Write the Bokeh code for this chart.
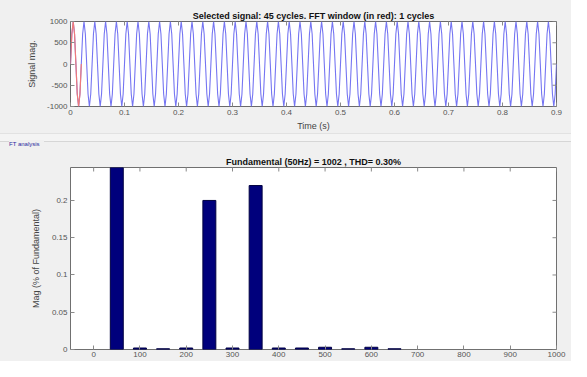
import numpy as np
from bokeh.plotting import figure
from bokeh.models import FixedTicker, Range1d, Div
from bokeh.layouts import column
from bokeh.embed import file_html
from bokeh.resources import INLINE

# ---- data ----
top_title = "Selected signal: 45 cycles. FFT window (in red): 1 cycles"
bottom_title = "Fundamental (50Hz) = 1002 , THD= 0.30%"

signal_cycle = [0, 707, 1000, 707, 0, -707, -1000, -707]   # one 50 Hz cycle (read)
cycle_period = 0.02
n_cycles = 45

time_ticks = [0, 0.1, 0.2, 0.3, 0.4, 0.5, 0.6, 0.7, 0.8, 0.9]
time_tick_labels = ["0", "0.1", "0.2", "0.3", "0.4", "0.5", "0.6", "0.7", "0.8", "0.9"]
mag_ticks = [-1000, -500, 0, 500, 1000]
mag_tick_labels = ["-1000", "-500", "0", "500", "1000"]

harm_freq = [50, 100, 150, 200, 250, 300, 350, 400, 450, 500, 550, 600, 650]
harm_mag = [100, 0.002, 0.001, 0.002, 0.2, 0.002, 0.22, 0.002, 0.002, 0.003, 0.001, 0.003, 0.001]

freq_ticks = [0, 100, 200, 300, 400, 500, 600, 700, 800, 900, 1000]
freq_tick_labels = ["0", "100", "200", "300", "400", "500", "600", "700", "800", "900", "1000"]
pct_ticks = [0, 0.05, 0.1, 0.15, 0.2]
pct_tick_labels = ["0", "0.05", "0.1", "0.15", "0.2"]

# ---- build series ----
spc = len(signal_cycle)
t = np.arange(n_cycles * spc + 1) * (cycle_period / spc)
sig = np.array(list(signal_cycle) * n_cycles + [signal_cycle[0]])
t_win = t[: spc + 1]
sig_win = sig[: spc + 1]

FONT = "Liberation Sans"
BG = "#f0f0f0"
W = 571
TICK_C = "#8a8a8a"


def style_axis(ax, ticks, labels):
    ax.ticker = FixedTicker(ticks=ticks)
    ax.major_label_overrides = {k: v for k, v in zip(ticks, labels)}
    ax.major_tick_in = 4
    ax.major_tick_out = 0
    ax.minor_tick_line_color = None
    ax.major_tick_line_color = TICK_C
    ax.axis_line_color = None
    ax.major_label_text_font = FONT
    ax.major_label_text_color = "#555555"
    ax.major_label_text_font_size = "8px"
    ax.major_label_standoff = 3
    ax.axis_label_text_font = FONT
    ax.axis_label_text_font_style = "normal"
    ax.axis_label_text_font_size = "9px"
    ax.axis_label_text_color = "#444444"


def style_title(p, text):
    p.title.text = text
    p.title.align = "center"
    p.title.text_font = FONT
    p.title.text_font_size = "9px"
    p.title.text_font_style = "bold"
    p.title.text_color = "#111111"
    p.title.standoff = 1


def box_ticks(p, xr, yr, xticks, yticks):
    # inward tick marks on the top and right edges (half of each dash is clipped by the frame)
    p.scatter(x=xticks, y=[yr.end] * len(xticks), marker="dash", angle=np.pi / 2,
              size=8, line_color=TICK_C, line_width=1)
    p.scatter(x=[xr.end] * len(yticks), y=yticks, marker="dash",
              size=8, line_color=TICK_C, line_width=1)


# ---- top plot ----
xr1 = Range1d(0, 0.9)
yr1 = Range1d(-1000, 1000)
top = figure(width=W, height=133, output_backend="svg", toolbar_location=None,
             x_range=xr1, y_range=yr1,
             min_border_left=70, min_border_right=15, min_border_top=21, min_border_bottom=26,
             border_fill_color=BG, background_fill_color="white",
             outline_line_color="#6a6a6a")
style_title(top, top_title)
top.grid.visible = False
top.line(t, sig, line_color="#7575f2", line_width=1.1)
top.line(t_win, sig_win, line_color="#f07a7a", line_width=1.2)
style_axis(top.xaxis[0], time_ticks, time_tick_labels)
style_axis(top.yaxis[0], mag_ticks, mag_tick_labels)
top.xaxis[0].axis_label = "Time (s)"
top.xaxis[0].axis_label_standoff = 3
top.yaxis[0].axis_label = "Signal mag."
top.yaxis[0].axis_label_standoff = 7
box_ticks(top, xr1, yr1, time_ticks, mag_ticks)

# ---- separator ----
sep = Div(width=W, height=18, margin=0, text=(
    '<div style="position:relative;width:571px;height:18px;background:#f0f0f0;">'
    '<div style="position:absolute;left:0;top:0;width:571px;height:9px;background:#f4f4f4;border-top:1px solid #e2e2e2;border-bottom:1px solid #d6d6d6"></div>'
    '<div style="position:absolute;left:9px;top:7px;font-family:\'Liberation Sans\';font-size:6px;color:#2a2aa0;background:#f0f0f0;padding-right:4px">FT analysis</div>'
    '</div>'))

# ---- bottom plot ----
xr2 = Range1d(-50, 1000)
yr2 = Range1d(0, 0.2442)
bot = figure(width=W, height=210, output_backend="svg", toolbar_location=None,
             x_range=xr2, y_range=yr2,
             min_border_left=70, min_border_right=15, min_border_top=16, min_border_bottom=12,
             border_fill_color=BG, background_fill_color="white",
             outline_line_color="#707070")
style_title(bot, bottom_title)
bot.grid.visible = False
bot.vbar(x=harm_freq, top=harm_mag, width=28, bottom=0,
         fill_color="#00007c", line_color="#000040", line_width=1)
style_axis(bot.xaxis[0], freq_ticks, freq_tick_labels)
style_axis(bot.yaxis[0], pct_ticks, pct_tick_labels)
bot.xaxis[0].major_label_standoff = 2
bot.yaxis[0].axis_label = "Mag (% of Fundamental)"
bot.yaxis[0].axis_label_standoff = 8
box_ticks(bot, xr2, yr2, freq_ticks, pct_ticks)

layout = column(top, sep, bot, spacing=0, background=BG)
open("out.html", "w").write(file_html(layout, INLINE))
